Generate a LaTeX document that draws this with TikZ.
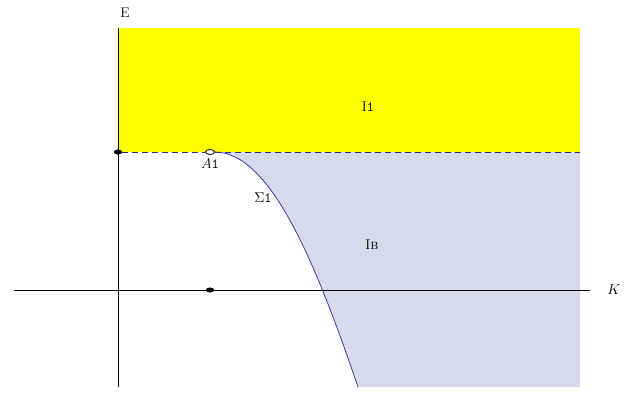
\documentclass[tikz,border=0pt]{standalone}
\usepackage{tikz}
\usetikzlibrary{positioning, shapes.geometric, calc}
\definecolor{lemon}{HTML}{FFFF00}
\definecolor{lilac}{HTML}{D9D9EC}
\definecolor{branch}{HTML}{3C3CA6}
\definecolor{level}{HTML}{30308A}

\begin{document}
\begin{tikzpicture}[x=1pt, y=-1pt, font=\fontsize{14}{16}\selectfont,
  dot/.style={draw=black, fill=black, ellipse, inner sep=0pt, minimum width=8pt, minimum height=4.5pt},
  hole/.style={draw=black, fill=white, ellipse, inner sep=0pt, minimum width=9pt, minimum height=5pt, line width=0.8pt},
  axis/.style={black, line width=0.7pt},
  lbl/.style={inner sep=1pt}
]
  \useasboundingbox (0,0) rectangle (643,396);

  % regions
  \fill[lemon] (118,28) rectangle (580,152);
  \fill[lilac] (214,152) .. controls (272,152) and (318,270) .. (358,387)
    -- (580,387) -- (580,152) -- cycle;

  % axes
  \coordinate (ytop) at (118,28);
  \coordinate (ybot) at (118,387);
  \coordinate (xl) at (14,290);
  \coordinate (xr) at (590,290);
  \coordinate (lvl) at (580,152);
  \coordinate (low) at (358,387);
  \draw[axis] (ybot) -- (ytop);
  \draw[axis] (xl) -- (xr);

  \node[dot] (e0) at (118,152) {};
  \node[dot] (k0) at (210,290) {};
  \node[hole] (a1) at (210,152) {};

  \draw[level, dashed, dash pattern=on 6pt off 4pt, line width=0.6pt] (e0) -- (a1);
  \draw[level, dashed, dash pattern=on 6pt off 4pt, line width=0.6pt] (a1) -- (lvl);
  \draw[branch, line width=0.8pt] (a1.east) .. controls (272,152) and (318,270) .. (low);

  % labels
  \node[lbl] (en) at (125,13) {E};
  \node[lbl] (kn) at (614,290) {$K$};
  \node[lbl, below=3pt of a1] (a1n) {$A$\texttt{1}};
  \node[lbl] (sig) at (263,198) {$\Sigma$\texttt{1}};
  \node[lbl] (i1) at (368,107) {I\texttt{1}};
  \node[lbl] (ib) at (372,245) {I\textsc{b}};
\end{tikzpicture}
\end{document}
